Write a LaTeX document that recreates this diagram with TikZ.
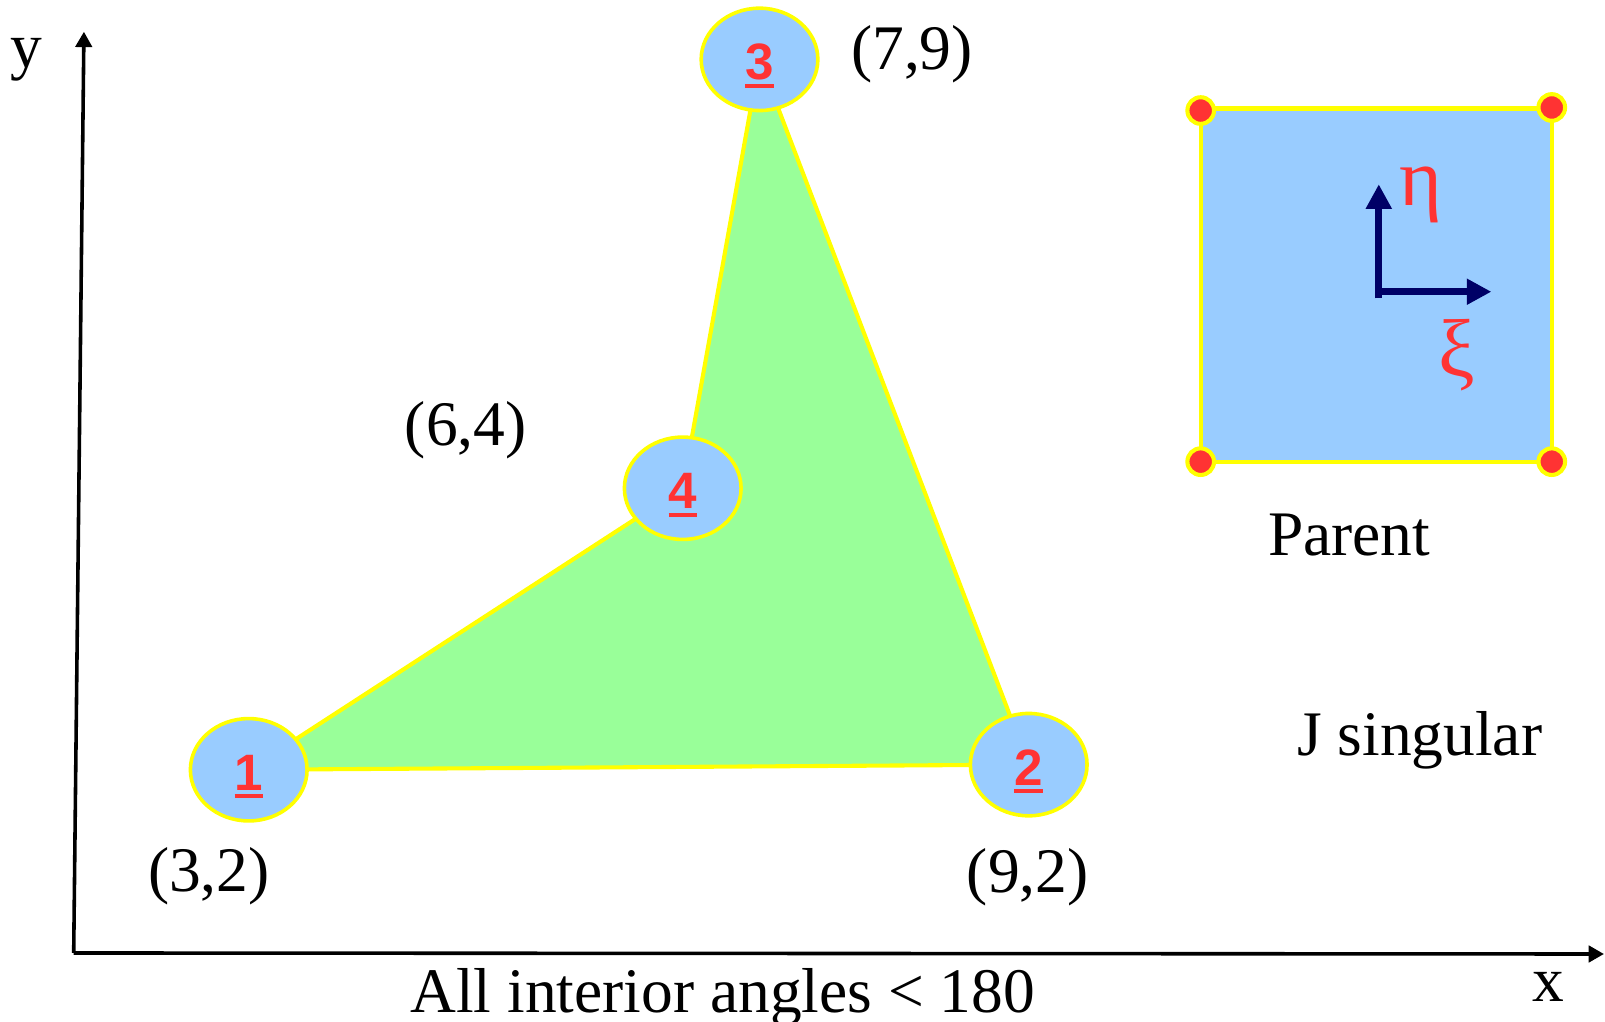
\documentclass[tikz,border=0pt]{standalone}
\usepackage{fontspec}
\setmainfont{Liberation Serif}
\newfontfamily\numfont{Liberation Sans}
\usetikzlibrary{arrows.meta}
\definecolor{vblue}{HTML}{99CCFF}
\definecolor{vgreen}{HTML}{99FF99}
\definecolor{vyellow}{HTML}{FFFF00}
\definecolor{vred}{HTML}{FF3333}
\definecolor{vnavy}{HTML}{000066}
\newcommand\ulnum[1]{\setbox0\hbox{#1}\rlap{\copy0}\rule[-8pt]{\wd0}{4pt}}
\tikzset{
  vert/.style={ellipse, draw=vyellow, line width=3.5pt, fill=vblue, minimum width=114pt, minimum height=100pt, inner sep=0pt},
  num/.style={anchor=base, text=vred, font=\numfont\bfseries\fontsize{50}{54}\selectfont, inner sep=0pt},
  lbl/.style={anchor=base, font=\fontsize{62}{70}\selectfont, inner sep=0pt},
  axis/.style={line width=3.5pt, -{Triangle[length=15pt,width=16pt]}},
  parax/.style={line width=7pt, draw=vnavy, -{Triangle[length=24pt,width=24pt]}},
  dot/.style={circle, fill=vred, draw=vyellow, line width=4pt, minimum size=26pt, inner sep=0pt},
  greek/.style={text=vred, font=\fontsize{80}{84}\selectfont, inner sep=0pt}
}
\usetikzlibrary{shapes.geometric}
\begin{document}
\begin{tikzpicture}[x=1pt,y=-1pt]
\useasboundingbox (0,0) rectangle (1568,998);
% axes
\coordinate (O) at (72,931);
\coordinate (Ytip) at (82,31);
\coordinate (Xtip) at (1567,932);
\draw[axis] (O) -- (Ytip);
\draw[axis] (O) -- (Xtip);
\node[lbl] (ylab) at (26,66) {y};
\node[lbl] (xlab) at (1513,978) {x};
% vertices
\coordinate (c1) at (243,752);
\coordinate (c2) at (1005,747);
\coordinate (c3) at (742,58);
\coordinate (c4) at (667,477);
\filldraw[fill=vgreen, draw=vyellow, line width=4pt, line join=miter] (c1) -- (c2) -- (c3) -- (c4) -- cycle;
\node[vert] (n1) at (c1) {};
\node[vert] (n2) at (c2) {};
\node[vert] (n3) at (c3) {};
\node[vert] (n4) at (c4) {};
\node[num] (t1) at ([yshift=-20pt]n1.center) {\ulnum{1}};
\node[num] (t2) at ([yshift=-20pt]n2.center) {\ulnum{2}};
\node[num] (t3) at ([yshift=-20pt]n3.center) {\ulnum{3}};
\node[num] (t4) at ([yshift=-20pt]n4.center) {\ulnum{4}};
% coordinate labels
\node[lbl] (l3) at (891,68) {(7,9)};
\node[lbl] (l4) at (455,435) {(6,4)};
\node[lbl] (l1) at (204,871) {(3,2)};
\node[lbl] (l2) at (1004,872) {(9,2)};
% parent element
\filldraw[fill=vblue, draw=vyellow, line width=4pt] (1173,106) rectangle (1516,451);
\node[dot] (p1) at (1173,108) {};
\node[dot] (p2) at (1516,105) {};
\node[dot] (p3) at (1173,451) {};
\node[dot] (p4) at (1516,451) {};
\coordinate (po) at (1347,288);
\coordinate (peta) at (1347,180);
\coordinate (pxi) at (1457,285);
\draw[parax] ([yshift=-3.5pt]po) -- (peta);
\draw[parax] ([xshift=-3.5pt]1347,285) -- (pxi);
\node[greek] (eta) at (1388,190) {η};
\node[greek] (xi) at (1423,347) {ξ};
\node[lbl] (parent) at (1318,543) {Parent};
\node[lbl] (jsing) at (1387,738) {J singular};
\node[lbl] (angles) at (706,989) {All interior angles < 180};
\end{tikzpicture}
\end{document}
